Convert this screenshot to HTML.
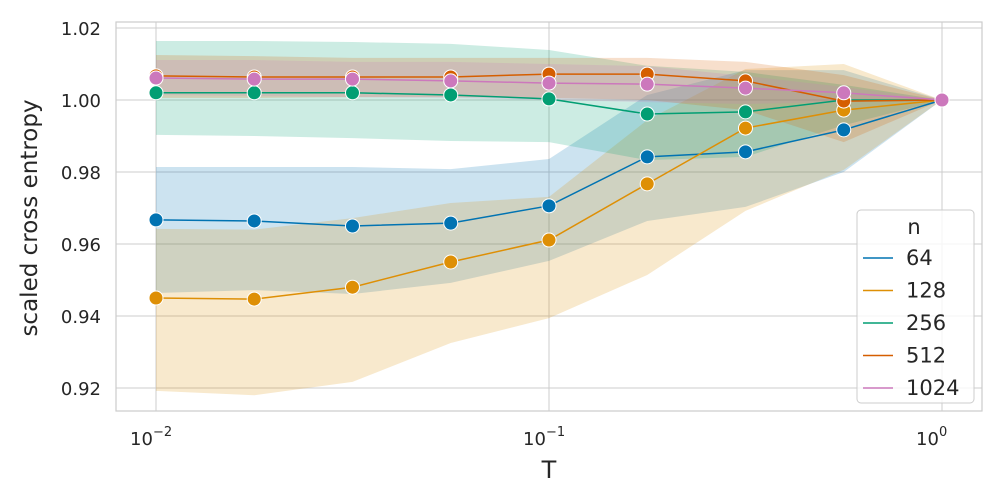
<!DOCTYPE html>
<html><head><meta charset="utf-8"><style>
body{margin:0;background:#fff;}
svg{display:block;font-family:"DejaVu Sans","Liberation Sans",sans-serif;}
</style></head><body>
<svg id="chart" width="1000" height="500" viewBox="0 0 1000 500">
<rect x="0" y="0" width="1000" height="500" fill="#fff"/>
<g id="grid"></g>
<g id="bands"></g>
<g id="lines"></g>
<g id="axes"></g>
<text transform="translate(37,218) rotate(-90)" text-anchor="middle" font-size="23" fill="#262626">scaled cross entropy</text>
<text x="549" y="478" text-anchor="middle" font-size="24" fill="#262626">T</text>
<g id="legend"></g>
</svg>
<script>
const tValues=[0.01,0.01778,0.03162,0.05623,0.1,0.1778,0.3162,0.5623,1];
const seriesNames=["64","128","256","512","1024"];
const mean64=[0.9667,0.9664,0.965,0.9658,0.9706,0.9842,0.9856,0.9917,1.0];
const mean128=[0.945,0.9447,0.948,0.955,0.9611,0.9767,0.9922,0.9972,1.0];
const mean256=[1.002,1.002,1.002,1.0014,1.0003,0.9961,0.9967,1.0,1.0];
const mean512=[1.0067,1.0064,1.0064,1.0064,1.0072,1.0072,1.0053,0.9997,1.0];
const mean1024=[1.0061,1.0058,1.0058,1.0053,1.0047,1.0044,1.0033,1.002,1.0];
const up64=[0.9814,0.9814,0.9814,0.9808,0.9836,1.0014,1.0083,1.0083,1.0];
const lo64=[0.9464,0.9472,0.9461,0.9492,0.9553,0.9664,0.9703,0.980,1.0];
const up128=[0.9642,0.9640,0.9672,0.9714,0.9731,0.9944,1.0086,1.010,1.0];
const lo128=[0.9192,0.918,0.9217,0.9325,0.9394,0.9514,0.9692,0.9806,1.0];
const up256=[1.0164,1.0164,1.0161,1.0156,1.0139,1.0095,1.0078,1.0042,1.0];
const lo256=[0.9903,0.99,0.9894,0.9886,0.9883,0.9833,0.9842,0.993,1.0];
const up512=[1.0125,1.0122,1.0117,1.0117,1.0117,1.0117,1.0106,1.0069,1.0];
const lo512=[1.0006,1.0006,1.0008,1.0008,1.0006,1.0,0.9972,0.9883,1.0];
const up1024=[1.0111,1.0111,1.0106,1.0106,1.01,1.0094,1.0067,1.0036,1.0];
const lo1024=[1.0014,1.0011,1.0008,1.0006,1.0,0.9994,0.9989,0.9994,1.0];
const yTicks=[0.92,0.94,0.96,0.98,1.00,1.02];
const yTickLabels=["0.92","0.94","0.96","0.98","1.00","1.02"];
const xTicks=[0.01,0.1,1];
const xTickExps=["−2","−1","0"];

const colors=["#0173b2","#de8f05","#029e73","#d55e00","#cc78bc"];
const means=[mean64,mean128,mean256,mean512,mean1024];
const ups=[up64,up128,up256,up512,up1024];
const los=[lo64,lo128,lo256,lo512,lo1024];
const L=116,R=982,T=22,B=411;
const xs=t=>156+(Math.log10(t)+2)*393;
const ys=v=>28+(1.02-v)*3600;
const NS="http://www.w3.org/2000/svg";
function mk(tag,attrs,parent){const e=document.createElementNS(NS,tag);for(const k in attrs)e.setAttribute(k,attrs[k]);parent.appendChild(e);return e;}
const grid=document.getElementById('grid');
yTicks.forEach((v,i)=>{
 const l=mk('line',{x1:L,x2:R,y1:ys(v),y2:ys(v),stroke:'#cccccc','stroke-width':1},grid);
 
 
 const t=mk('text',{x:101,y:ys(v)+7,'text-anchor':'end','font-size':18,fill:'#262626'},grid);
 t.textContent=yTickLabels[i];
 
 
});
xTicks.forEach((v,i)=>{
 const l=mk('line',{x1:xs(v),x2:xs(v),y1:T,y2:B,stroke:'#cccccc','stroke-width':1},grid);
 
 
 const t=mk('text',{x:xs(v)-26,y:445,'text-anchor':'start','font-size':18,fill:'#262626'},grid);
 t.textContent='10';
 
 
 const s=mk('text',{x:xs(v)-3,y:436,'text-anchor':'start','font-size':13,fill:'#262626'},grid);
 s.textContent=xTickExps[i];
 
 
});
const bands=document.getElementById('bands'),lines=document.getElementById('lines');
means.forEach((m,si)=>{
 let d='';
 tValues.forEach((t,i)=>{d+=(i?'L':'M')+xs(t)+','+ys(ups[si][i]);});
 for(let i=tValues.length-1;i>=0;i--)d+='L'+xs(tValues[i])+','+ys(los[si][i]);
 const b=mk('path',{d:d+'Z',fill:colors[si],'fill-opacity':0.2,stroke:'none'},bands);
 
 
});
means.forEach((m,si)=>{
 const p=mk('polyline',{points:tValues.map((t,i)=>xs(t)+','+ys(m[i])).join(' '),fill:'none',stroke:colors[si],'stroke-width':1.5},lines);
 
 
 tValues.forEach((t,i)=>{
  const c=mk('circle',{cx:xs(t),cy:ys(m[i]),r:7,fill:colors[si],stroke:'#fff','stroke-width':1},lines);
  
  
 });
});
const axes=document.getElementById('axes');
const fr=mk('rect',{x:L,y:T,width:R-L,height:B-T,fill:'none',stroke:'#cccccc','stroke-width':1.2},axes);


const lg=document.getElementById('legend');
const lb=mk('rect',{x:857,y:210,width:117,height:193,rx:4,fill:'#fff','fill-opacity':0.8,stroke:'#cccccc'},lg);


const lt=mk('text',{x:914,y:234,'text-anchor':'middle','font-size':21,fill:'#262626'},lg);
lt.textContent='n';


seriesNames.forEach((n,i)=>{
 const y=258+i*32.5;
 const g=mk('g',{},lg);
 
 
 mk('line',{x1:863,x2:893,y1:y,y2:y,stroke:colors[i],'stroke-width':1.5},g);
 const t=mk('text',{x:906,y:y+7,'font-size':21,fill:'#262626'},g);
 t.textContent=n;
});
</script>
</body></html>
